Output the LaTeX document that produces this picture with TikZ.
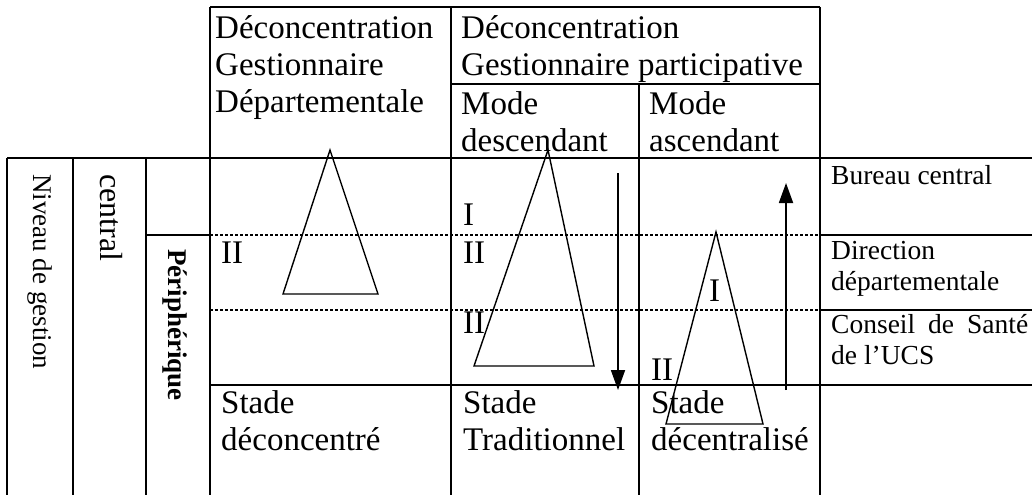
\documentclass[tikz,border=0pt]{standalone}
\usepackage{fontspec}
\setmainfont{Liberation Serif}
\usetikzlibrary{arrows.meta}
\begin{document}
\begin{tikzpicture}[x=1pt,y=-1pt,
  tline/.style={line width=1.8pt},
  dline/.style={line width=1.3pt,dash pattern=on 3pt off 2pt},
  tri/.style={line width=1.4pt,line join=miter},
  arr/.style={line width=1.8pt,-{Triangle[width=14pt,length=20pt]}},
  big/.style={inner sep=0pt,anchor=base west,font=\fontsize{33}{37.5}\selectfont},
  small/.style={inner sep=0pt,anchor=base west,font=\fontsize{27.5}{31}\selectfont},
  vert/.style={inner sep=0pt,anchor=west,rotate=-90},
]
\useasboundingbox (0,0) rectangle (1032,495);
% grid lines
\draw[tline] (210,7) -- (820,7);
\draw[tline] (210,7) -- (210,495);
\draw[tline] (451,7) -- (451,495);
\draw[tline] (820,7) -- (820,495);
\draw[tline] (451,84) -- (820,84);
\draw[tline] (639,84) -- (639,495);
\draw[tline] (7,158) -- (1032,158);
\draw[tline] (7,158) -- (7,495);
\draw[tline] (73,158) -- (73,495);
\draw[tline] (146,158) -- (146,495);
\draw[tline] (146,235) -- (210,235);
\draw[dline] (210,235) -- (820,235);
\draw[dline] (210,310) -- (820,310);
\draw[tline] (820,235) -- (1032,235);
\draw[tline] (820,310) -- (1032,310);
\draw[tline] (210,385) -- (1032,385);
% header texts
\node[big] (h1a) at (215,38) {Déconcentration};
\node[big] (h1b) at (215,75) {Gestionnaire};
\node[big] (h1c) at (215,112) {Départementale};
\node[big] (h2a) at (461,38) {Déconcentration};
\node[big] (h2b) at (461,75) {Gestionnaire participative};
\node[big] (m1a) at (461,114) {Mode};
\node[big] (m1b) at (461,151) {descendant};
\node[big] (m2a) at (649,114) {Mode};
\node[big] (m2b) at (649,151) {ascendant};
% left vertical labels
\node[vert,font=\fontsize{27}{31}\selectfont] (niv) at (40,174) {Niveau de gestion};
\node[vert,font=\fontsize{32}{37}\selectfont] (cen) at (111,174) {central};
\node[vert,font=\fontsize{27}{31}\selectfont\bfseries] (per) at (175,249) {Périphérique};
% roman numerals
\node[big] (r1) at (221,263) {II};
\node[big] (r2) at (463,225) {I};
\node[big] (r3) at (463,263) {II};
\node[big] (r4) at (463,333) {II};
\node[big] (r5) at (709,301) {I};
\node[big] (r6) at (651,380) {II};
% bottom texts
\node[big] (s1a) at (221,413) {Stade};
\node[big] (s1b) at (221,450) {déconcentré};
\node[big] (s2a) at (463,413) {Stade};
\node[big] (s2b) at (463,450) {Traditionnel};
\node[big] (s3a) at (651,413) {Stade};
\node[big] (s3b) at (651,450) {décentralisé};
% right labels
\node[small] (bc) at (831,184) {Bureau central};
\node[small] (dd1) at (831,259) {Direction};
\node[small] (dd2) at (831,290) {départementale};
\node[small] (cs1) at (831,333) {\makebox[197pt][s]{Conseil de Santé}};
\node[small] (cs2) at (831,364) {de l’UCS};
% triangles
\draw[tri] (330,150) -- (283,294) -- (378,294) -- cycle;
\draw[tri] (548,150) -- (474,366) -- (594,366) -- cycle;
\draw[tri] (716,232) -- (666,424) -- (763,424) -- cycle;
% arrows
\coordinate (a1s) at (618,173);
\coordinate (a1e) at (618,390);
\coordinate (a2s) at (786,390);
\coordinate (a2e) at (786,183);
\draw[arr] (a1s) -- (a1e);
\draw[arr] (a2s) -- (a2e);
\end{tikzpicture}
\end{document}
